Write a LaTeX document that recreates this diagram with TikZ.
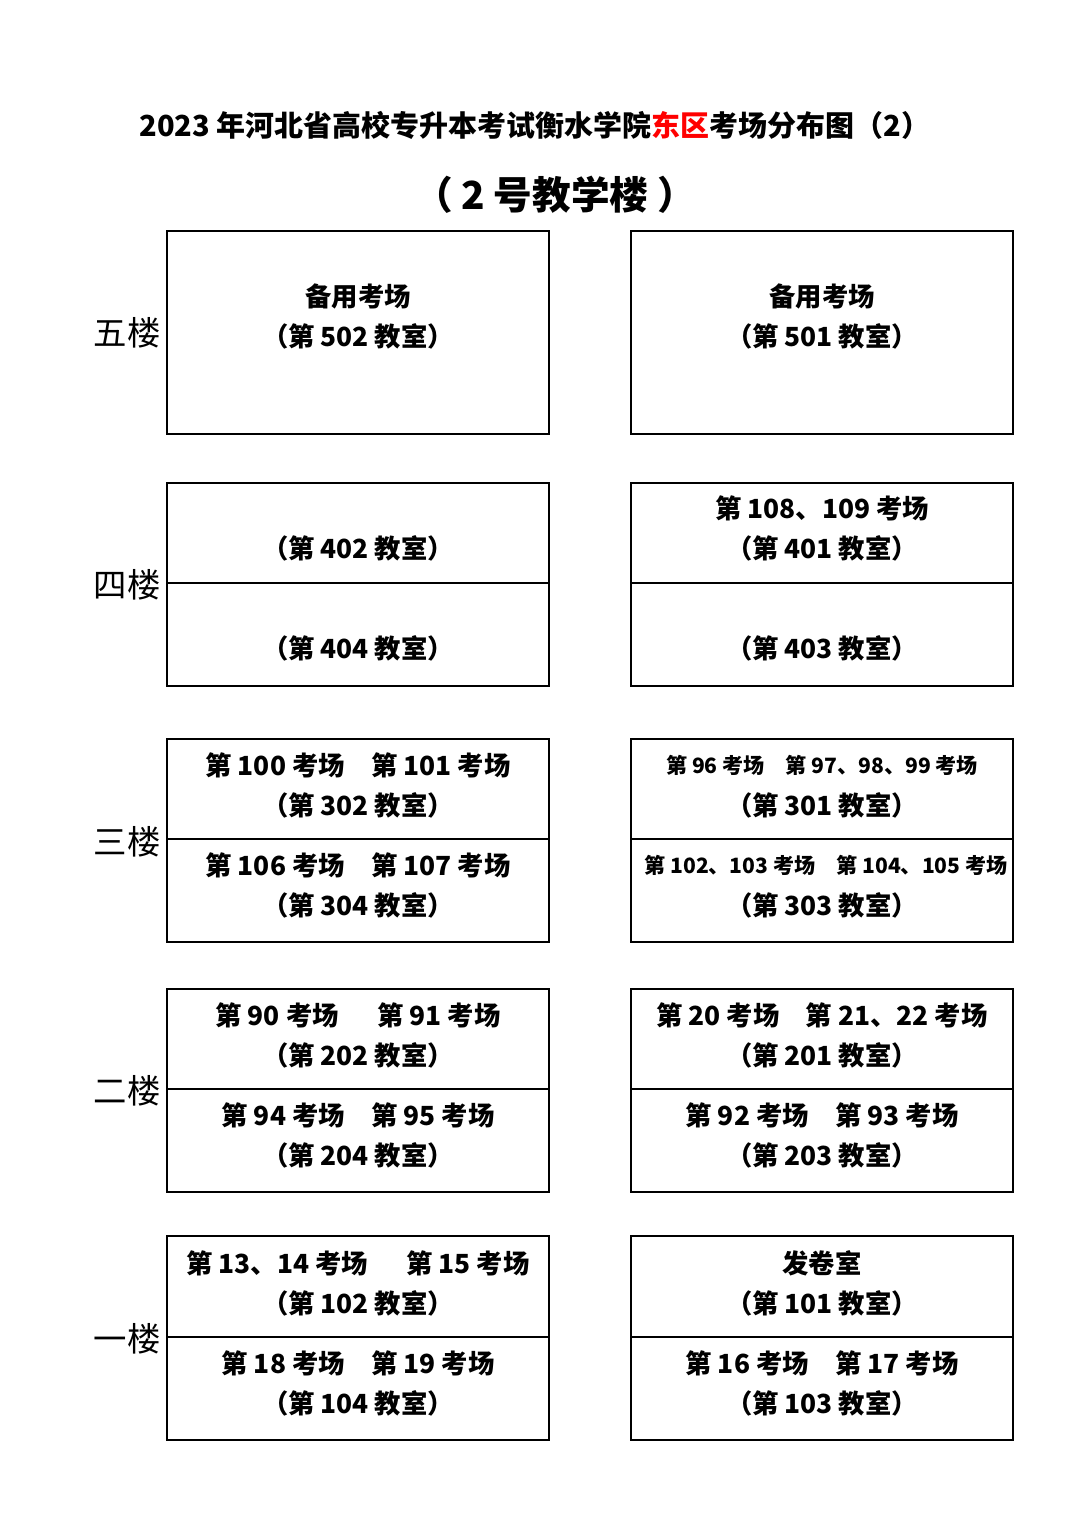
\documentclass[tikz,border=0pt]{standalone}
\usepackage{fontspec}
\setmainfont{Noto Sans CJK SC}
\usetikzlibrary{positioning}

\begin{document}
\begin{tikzpicture}[x=0.02cm,y=-0.02cm
        , every path/.style={ line width=1.1pt }
        , room/.style={ font=\fontsize{15}{18}\selectfont\bfseries, inner sep=0pt }
        , roomsmall/.style={ font=\fontsize{12}{14}\selectfont\bfseries, inner sep=0pt }
        , floor/.style={ font=\fontsize{19}{22}\selectfont, inner sep=0pt }
        ]
        \useasboundingbox (0,0) rectangle (1080,1527);

        % titles
        \node[font=\fontsize{16.5}{20}\selectfont\bfseries] (title) at (535,125)
            {2023 年河北省高校专升本考试衡水学院{\color{red}东区}考场分布图（2）};
        \node[font=\fontsize{22}{26}\selectfont\bfseries] (subtitle) at (555,195) {（ 2 号教学楼 ）};

        % boxes: left and right of every floor
        \foreach \t/\b/\n in {231/434/five,483/686/four,739/942/three,989/1192/two,1236/1440/one} {
            \draw (167,\t) rectangle (549,\b);
            \draw (631,\t) rectangle (1013,\b);
        }
        % dividers
        \foreach \y in {583,839,1089,1337} {
            \draw (167,\y) -- (549,\y);
            \draw (631,\y) -- (1013,\y);
        }

        % floor labels
        \node[floor] (f5) at (127,333) {五楼};
        \node[floor] (f4) at (127,585) {四楼};
        \node[floor] (f3) at (127,842) {三楼};
        \node[floor] (f2) at (127,1091) {二楼};
        \node[floor] (f1) at (127,1339) {一楼};

        % fifth floor
        \node[room] (r502a) at (358,296) {备用考场};
        \node[room] (r502) at (358,336) {（第 502 教室）};
        \node[room] (r501a) at (822,296) {备用考场};
        \node[room] (r501) at (822,336) {（第 501 教室）};

        % fourth floor
        \node[room] (r402) at (358,548) {（第 402 教室）};
        \node[room] (r404) at (358,648) {（第 404 教室）};
        \node[room] (r401a) at (822,508) {第 108、109 考场};
        \node[room] (r401) at (822,548) {（第 401 教室）};
        \node[room] (r403) at (822,648) {（第 403 教室）};

        % third floor
        \node[room] (r302a) at (358,765) {第 100 考场\quad 第 101 考场};
        \node[room] (r302) at (358,805) {（第 302 教室）};
        \node[room] (r304a) at (358,865) {第 106 考场\quad 第 107 考场};
        \node[room] (r304) at (358,905) {（第 304 教室）};
        \node[roomsmall] (r301a) at (822,765) {第 96 考场\quad 第 97、98、99 考场};
        \node[room] (r301) at (822,805) {（第 301 教室）};
        \node[roomsmall] (r303a) at (826,865) {第 102、103 考场\quad 第 104、105 考场};
        \node[room] (r303) at (822,905) {（第 303 教室）};

        % second floor
        \node[room] (r202a) at (358,1015) {第 90 考场\quad\ \ 第 91 考场};
        \node[room] (r202) at (358,1055) {（第 202 教室）};
        \node[room] (r204a) at (358,1115) {第 94 考场\quad 第 95 考场};
        \node[room] (r204) at (358,1155) {（第 204 教室）};
        \node[room] (r201a) at (822,1015) {第 20 考场\quad 第 21、22 考场};
        \node[room] (r201) at (822,1055) {（第 201 教室）};
        \node[room] (r203a) at (822,1115) {第 92 考场\quad 第 93 考场};
        \node[room] (r203) at (822,1155) {（第 203 教室）};

        % first floor
        \node[room] (r102a) at (358,1263) {第 13、14 考场\quad\ \ 第 15 考场};
        \node[room] (r102) at (358,1303) {（第 102 教室）};
        \node[room] (r104a) at (358,1363) {第 18 考场\quad 第 19 考场};
        \node[room] (r104) at (358,1403) {（第 104 教室）};
        \node[room] (r101a) at (822,1263) {发卷室};
        \node[room] (r101) at (822,1303) {（第 101 教室）};
        \node[room] (r103a) at (822,1363) {第 16 考场\quad 第 17 考场};
        \node[room] (r103) at (822,1403) {（第 103 教室）};
    \end{tikzpicture}
\end{document}
